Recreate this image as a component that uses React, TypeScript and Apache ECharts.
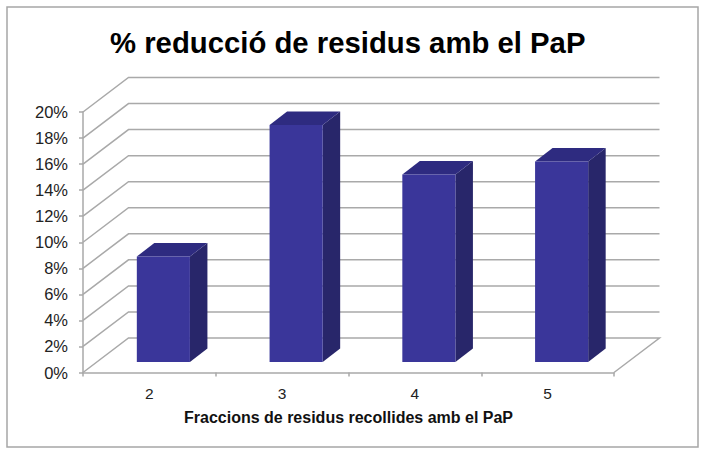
import React, { useEffect, useRef } from "react";
import * as echarts from "echarts";

const titleText = "% reducció de residus amb el PaP";
const axisTitle = "Fraccions de residus recollides amb el PaP";
const categories = ["2", "3", "4", "5"];
const reduction = [8.1, 18.2, 14.4, 15.4];
const yTicks = [0, 2, 4, 6, 8, 10, 12, 14, 16, 18, 20];

const GRID_COLOR = "#a9a9a9";
const WALL_DX = 45.5;
const WALL_DY = -34.5;
const BAR_WIDTH_RATIO = 0.4;
const BAR_FLOOR_DX = 14;
const BAR_FLOOR_DY = -10.5;
const BAR_DX = 17.5;
const BAR_DY = -13.5;

export default function App() {
  const ref = useRef<HTMLDivElement>(null);
  useEffect(() => {
    const chart = echarts.init(ref.current!, null, { renderer: "svg" });
    chart.setOption({
      animation: false,
      backgroundColor: "#ffffff",
      title: {
        text: titleText,
        left: 105,
        top: 23,
        textStyle: { fontFamily: "Liberation Sans", fontSize: 29.3, fontWeight: "bold", color: "#000000" },
      },
      grid: { left: 83, top: 112, width: 531, height: 260.5, containLabel: false },
      xAxis: {
        type: "category",
        data: categories,
        name: axisTitle,
        nameLocation: "middle",
        nameGap: 37,
        nameTextStyle: { fontFamily: "Liberation Sans", fontSize: 16, fontWeight: "bold", color: "#111111" },
        axisLine: { lineStyle: { color: GRID_COLOR, width: 1.5 } },
        axisTick: { show: true, length: 4, lineStyle: { color: GRID_COLOR, width: 1.5 } },
        axisLabel: { fontFamily: "Liberation Sans", fontSize: 15.5, color: "#222222", margin: 13 },
        splitLine: { show: false },
      },
      yAxis: {
        type: "value",
        min: 0,
        max: 20,
        interval: 2,
        axisLine: { show: true, lineStyle: { color: GRID_COLOR, width: 1.5 } },
        axisTick: { show: true, length: 4, lineStyle: { color: GRID_COLOR, width: 1.5 } },
        axisLabel: {
          fontFamily: "Liberation Sans",
          fontSize: 16.5,
          color: "#222222",
          margin: 15,
          formatter: (v: number) => `${v}%`,
        },
        splitLine: { show: false },
      },
      series: [
        {
          type: "custom",
          z: 1,
          silent: true,
          coordinateSystem: "cartesian2d",
          data: yTicks.map((v) => [0, v]),
          encode: { x: 0, y: 1 },
          renderItem: (params: any, api: any) => {
            const cs = params.coordSys;
            const y = api.coord([0, api.value(1)])[1];
            const points = [
              [cs.x, y],
              [cs.x + WALL_DX, y + WALL_DY],
              [cs.x + cs.width + WALL_DX, y + WALL_DY],
            ];
            if (api.value(1) === 0) points.push([cs.x + cs.width, y]);
            return {
              type: "polyline",
              shape: { points },
              style: { fill: "none", stroke: GRID_COLOR, lineWidth: 1.5 },
            };
          },
        },
        {
          type: "custom",
          z: 3,
          coordinateSystem: "cartesian2d",
          data: reduction.map((v, i) => [i, v]),
          encode: { x: 0, y: 1 },
          renderItem: (_params: any, api: any) => {
            const band = api.size([1, 0])[0];
            const w = band * BAR_WIDTH_RATIO;
            const base = api.coord([api.value(0), 0]);
            const top = api.coord([api.value(0), api.value(1)]);
            const x0 = base[0] - w / 2 + BAR_FLOOR_DX;
            const x1 = x0 + w;
            const yB = base[1] + BAR_FLOOR_DY;
            const yT = top[1] + BAR_FLOOR_DY;
            return {
              type: "group",
              children: [
                {
                  type: "polygon",
                  shape: { points: [[x1, yB], [x1 + BAR_DX, yB + BAR_DY], [x1 + BAR_DX, yT + BAR_DY], [x1, yT]] },
                  style: { fill: "#28266a" },
                },
                {
                  type: "polygon",
                  shape: { points: [[x0, yT], [x1, yT], [x1 + BAR_DX, yT + BAR_DY], [x0 + BAR_DX, yT + BAR_DY]] },
                  style: { fill: "#2e2b80" },
                },
                {
                  type: "rect",
                  shape: { x: x0, y: yT, width: w, height: yB - yT },
                  style: { fill: "#3a369a" },
                },
              ],
            };
          },
        },
      ],
      graphic: [
        {
          type: "rect",
          z: -1,
          shape: { x: 7, y: 7, width: 691, height: 440 },
          style: { fill: "#ffffff", stroke: "#a6a6a6", lineWidth: 1.5 },
        },
      ],
    });
    return () => chart.dispose();
  }, []);
  return <div ref={ref} style={{ position: "fixed", left: 0, top: 0, width: 708, height: 455 }} />;
}
